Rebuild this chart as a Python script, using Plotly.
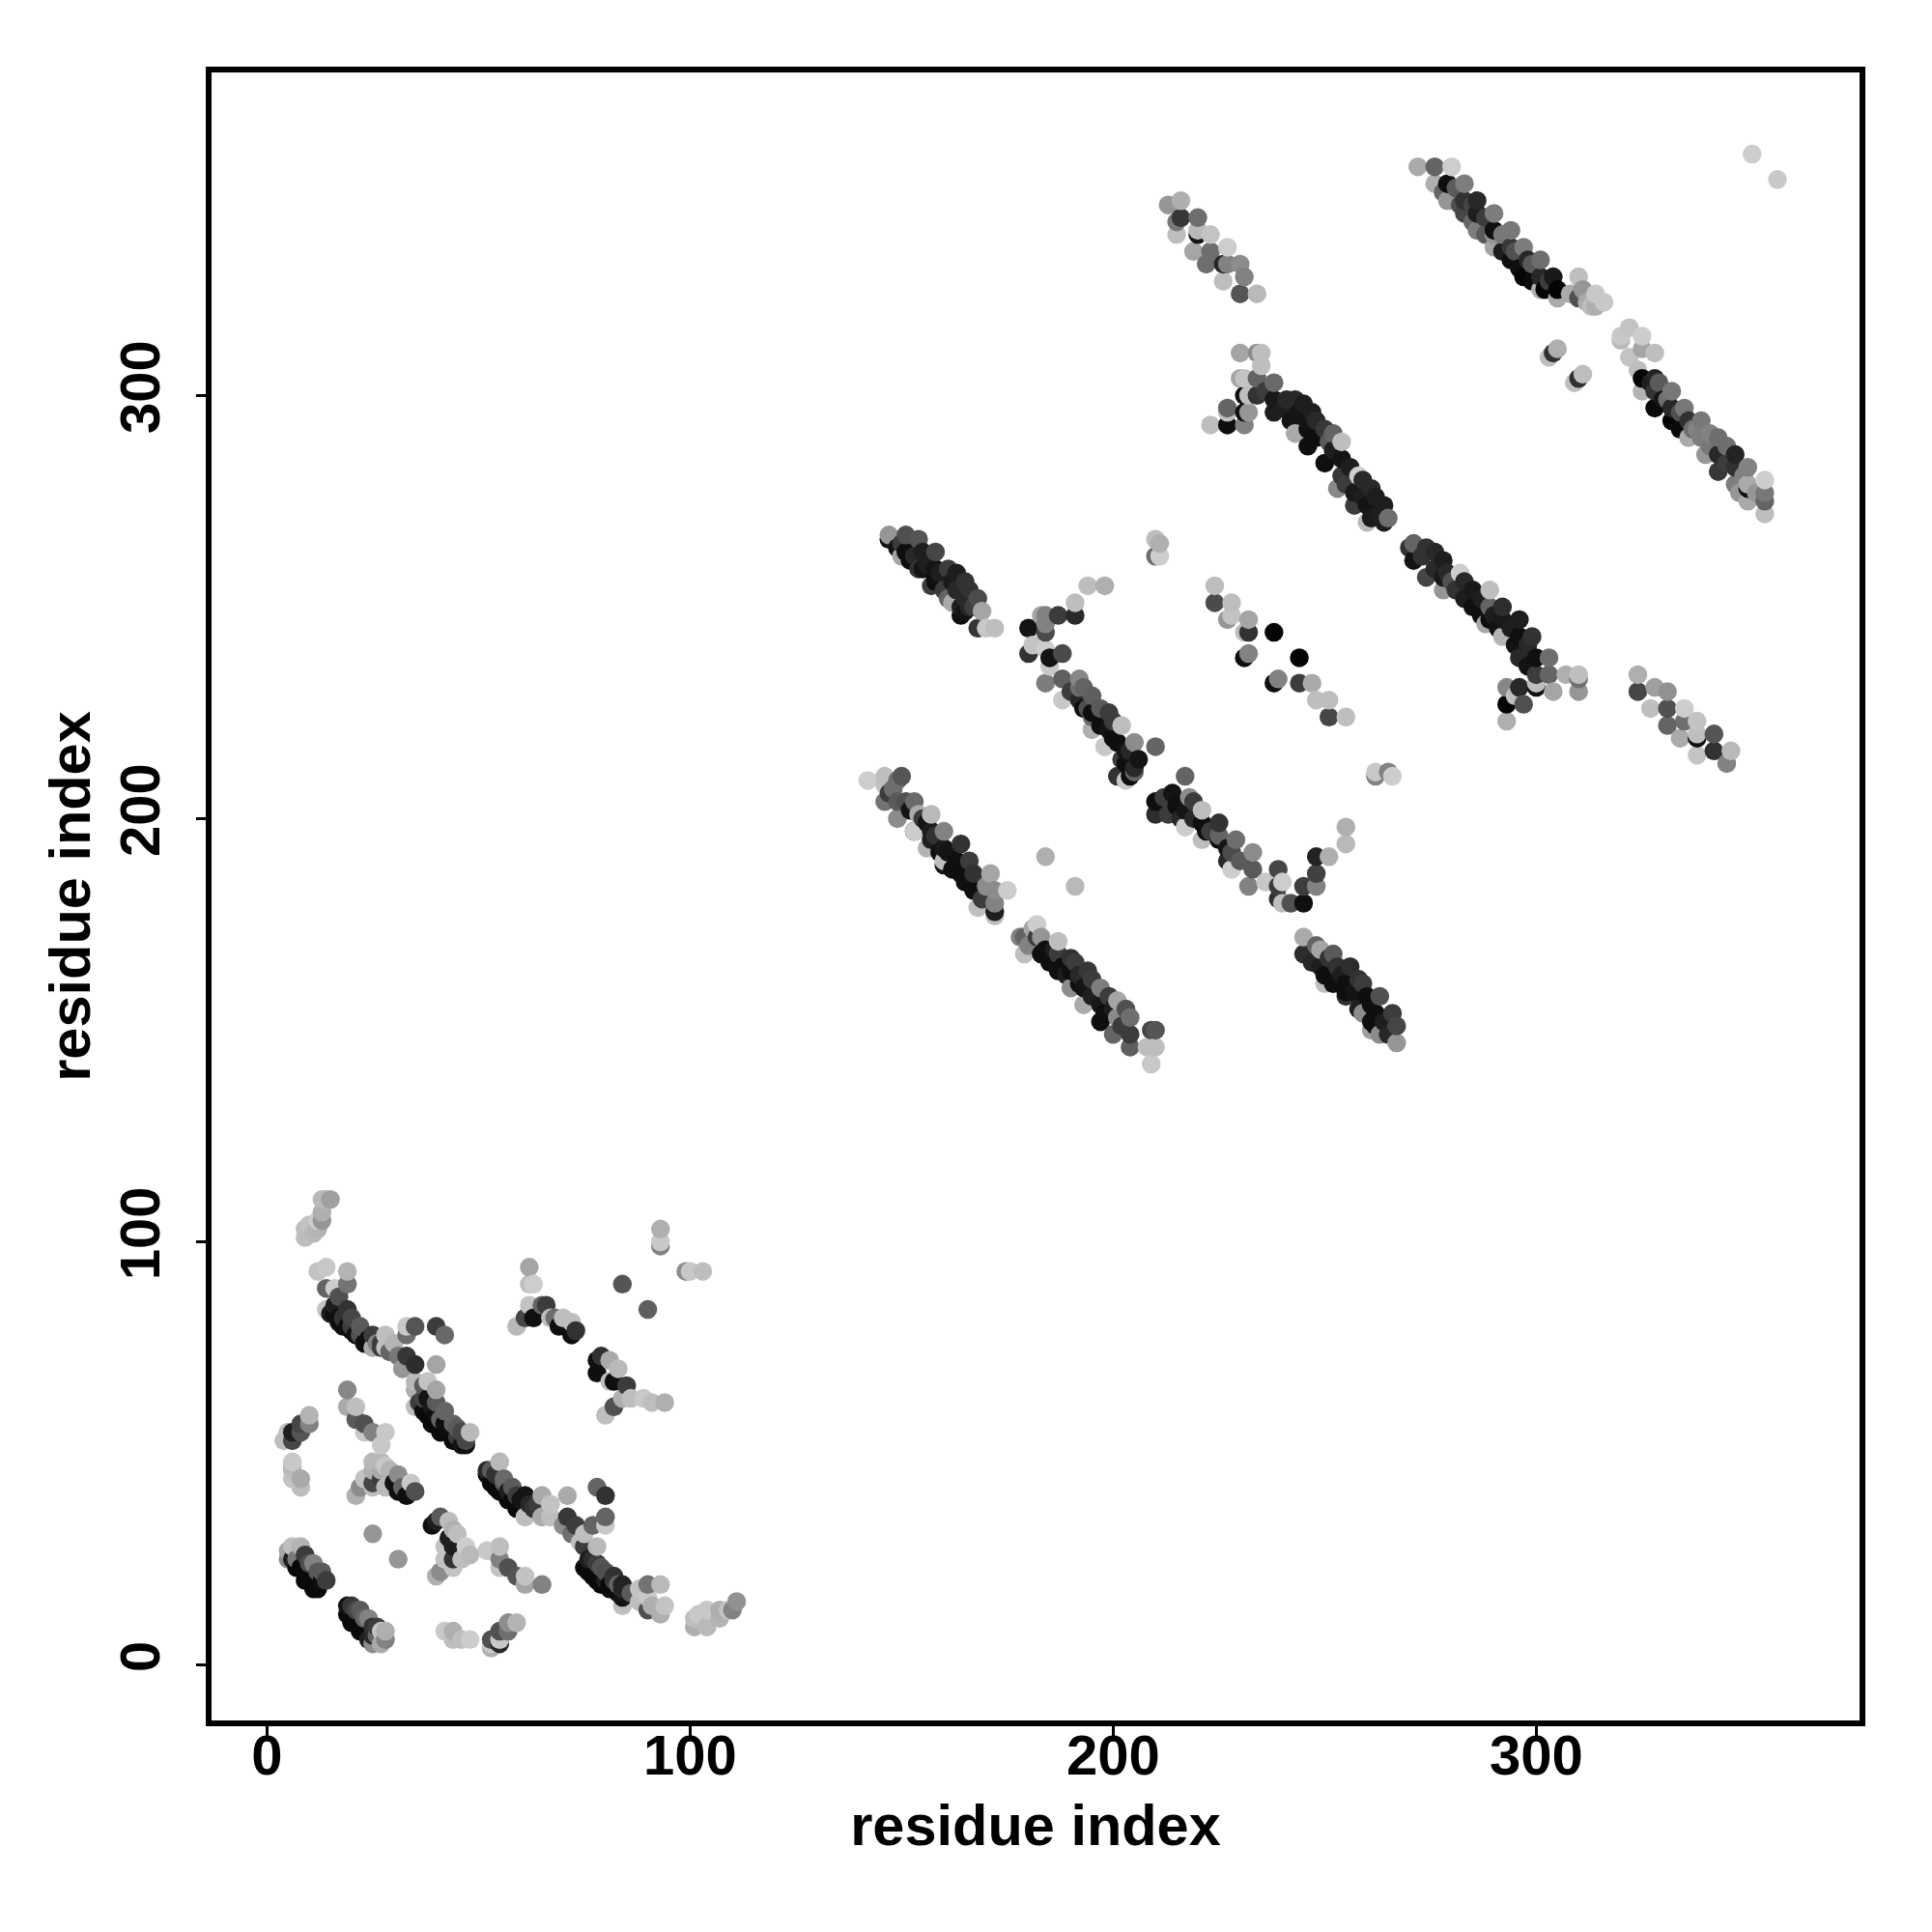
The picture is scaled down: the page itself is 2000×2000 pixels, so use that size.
import numpy as np
import plotly.graph_objects as go

# Each cluster: residue i, residue j, grey shade
a_i = [9,9,11,10,12,13,12,13,13,15,14]
a_j = [101,103,102,104,103,105,105,107,110,110,110]
a_s = [190,190,185,195,180,150,205,175,185,160,185]
b_i = [12,14,19,19,14,16,17,14,19,20,22,25,17,17,19,21,28,30,28,33,35,33,40,42,40,33,35,31,32,25,27]
b_j = [93,94,93,90,89,89,87,84,84,82,80,78,82,81,80,78,78,76,75,80,80,78,80,78,71,73,71,73,70,75,75]
b_s = [195,200,180,115,100,205,80,195,50,70,90,60,15,15,15,15,190,180,190,200,85,110,60,105,165,55,45,120,150,170,60]
c_i = [38,40,35,35,35,37,37,39,38,41,44,46,48,38,39,41,44,46,47]
c_j = [67,65,67,65,61,66,63,61,59,58,57,55,55,59,57,55,53,52,53]
c_s = [195,165,185,175,190,90,70,25,10,100,100,70,185,10,10,10,10,20,70]
d_i = [4,5,6,6,8,8,10,10,5]
d_j = [53,55,53,55,55,57,57,59,55]
d_s = [190,180,70,30,85,70,130,180,190]
e_i = [19,19,21,21,23,25,23,28,27]
e_j = [65,61,61,58,57,55,55,55,52]
e_s = [135,170,190,90,80,130,200,200,200]
f_i = [6,6,6,8,8,6]
f_j = [48,46,44,44,42,47]
f_s = [200,190,195,170,190,185]
g_i = [21,22,23,25,25,25,27,25,27,27,28,28,29,31,34,35,33,31,30,32]
g_j = [40,42,44,43,42,48,48,46,46,44,42,47,46,45,43,41,40,41,43,42]
g_s = [175,140,195,70,190,185,185,175,170,60,185,200,180,140,200,80,15,15,20,100]
h_i = [55,52,53,56,58,61,52,54,57,59,64,65,67,61,65,67,67,65,71,61,63,61,65,67,71,73,70,72,75,78,80,80,77,80,78,75,74,77]
h_j = [48,46,46,44,42,40,45,42,39,37,38,40,38,35,35,35,38,40,40,40,37,35,35,35,35,33,33,31,31,42,40,35,33,33,28,28,29,25]
h_s = [185,40,90,105,90,20,10,10,10,10,60,165,190,190,175,190,195,170,170,20,50,190,170,190,55,60,140,110,190,100,50,100,100,200,185,60,190,45]
k_i = [79,82,84,83,75,76,78,81,84,84,86,90,93,88,90,90,88,93,94,91]
k_j = [23,21,19,19,23,22,20,18,16,14,17,19,19,18,13,16,15,12,14,14]
k_s = [85,50,35,100,10,10,10,10,20,190,90,115,185,195,80,200,190,175,195,175]
l_i = [101,102,104,104,107,107,110,111,109,101]
l_j = [9,12,9,13,13,11,13,15,13,11]
l_s = [175,200,185,200,175,180,130,145,195,190]
m_i = [53,53,53,55,55,55,57,57,59]
m_j = [4,6,5,5,6,8,8,10,10]
m_s = [175,80,200,40,200,80,110,140,180]
n_i = [42,44,44,46,48]
n_j = [8,8,6,6,6]
n_s = [200,175,190,190,205]
o_i = [20,22,24,26,19,20,22,24,25,27,28,27,28]
o_j = [14,13,11,9,12,10,8,6,5,5,6,8,8]
o_s = [55,90,130,60,10,10,10,30,140,170,130,195,175]
p_i = [5,8,6,5,9,11,12,14,7,9,11,12]
p_j = [27,28,28,25,26,24,22,20,23,20,18,18]
p_s = [165,180,190,140,60,130,90,60,10,10,10,10]
q_i = [25,31,84,90,93,93,93,99,100,103]
q_j = [31,25,90,84,103,99,100,93,93,93]
q_s = [150,150,85,95,175,130,200,140,200,190]
r_i = [40,41,43,39,44,45,47,48,46,44,42,44,42,40,41,44,43]
r_j = [34,35,34,33,32,31,28,26,25,25,28,23,25,21,22,28,30]
r_s = [30,90,190,15,175,190,205,185,190,50,195,195,195,175,140,30,30]
s_i = [52,55,55,55,57,59,61,61,65]
s_j = [27,28,25,23,23,21,21,19,19]
s_s = [200,190,130,195,80,85,195,165,130]
t_i = [62,62,63,59,61,62,65,66,67,68,70,72,73,72,69,63]
t_j = [94,90,90,80,82,85,85,85,82,82,82,81,79,78,80,82]
t_s = [165,190,205,185,70,195,100,60,190,110,190,190,50,15,15,15]
u_i = [79,78,81,83,78,81,82,85,82,80,84,89,91,94,86]
u_j = [73,72,72,70,69,67,67,66,61,59,63,63,62,62,63]
u_s = [50,15,170,185,15,190,15,60,80,190,175,200,190,175,190]
v_i = [147,147,151,154,158,155,151,150,161,158,154,165,162,158,157,168,165,161,162,169,165,164,168,172,170]
v_j = [267,266,267,266,263,263,263,262,259,259,259,256,256,256,255,252,252,252,251,249,249,248,245,245,245]
v_s = [150,20,80,85,70,30,15,165,60,20,50,50,25,15,60,75,40,100,170,165,20,15,55,190,200]
w_i = [142,146,150,149,146,146,149,153,149,154,157,153,157,153,160,156,160,164,163,160,160,164,167,171,167,172,175,168,172,172,172]
w_j = [209,210,210,209,208,204,204,204,200,201,201,197,197,197,197,193,193,194,190,189,190,187,187,187,183,183,183,179,180,178,177]
w_s = [205,190,85,110,195,115,90,105,140,170,185,15,30,205,130,180,25,50,15,25,190,15,50,165,15,140,205,190,130,30,190]
x_i = [182,181,178,179,179,183,187,183,187,190,187,190,194,190,193,197,193,197,201,197,201,204,200,204,204,210,208,210,209,209]
x_j = [175,174,172,172,168,172,171,168,168,167,164,164,164,160,160,160,156,156,157,152,153,153,149,149,146,150,146,146,142,150]
x_s = [205,165,130,100,190,150,190,15,60,50,15,15,55,140,20,125,170,25,165,15,140,110,100,60,95,85,190,190,200,70]
y_i = [245,245,249,252,249,253,256,252,250,255,259,255,260,263,259,262,266,262,267,261,267]
y_j = [172,168,169,168,165,165,165,161,161,161,161,158,158,158,154,154,154,151,151,150,147]
y_s = [170,45,165,90,30,50,45,15,190,15,60,50,15,80,140,15,60,15,70,160,150]
z_i = [194,198,191,191,187,184,183,180,184,184,181,184,180,188,185,185,184,188,192,192,188,192,195,195,195,199,195,199,202,198,201,205,210,198,206,202,205,201,204,203,205]
z_j = [255,255,251,248,248,248,248,245,244,246,241,240,239,239,238,236,232,233,233,231,228,228,229,225,224,225,221,221,222,217,218,218,217,217,214,214,211,210,210,209,212]
z_s = [190,175,190,40,60,130,165,20,75,130,195,205,50,75,20,200,125,95,135,110,200,40,95,15,110,60,175,20,190,205,15,140,100,200,20,60,100,50,15,200,40]
aa_i = [217,210,210,212,214,214,218,217,217,221,221,221,225,225,225,229,228,228,233,233,232,236,239,239,240,239,240,242,245,248,245,248,248,251,255,255]
aa_j = [210,204,201,205,206,202,205,202,198,202,199,195,199,196,195,195,192,188,192,188,184,185,188,184,185,181,180,180,184,184,180,187,191,191,194,198]
aa_s = [100,15,45,60,20,60,140,20,205,190,15,190,50,100,15,110,75,205,140,90,130,200,70,60,205,50,190,80,60,130,15,65,35,175,185,175]
ab_i = [184,191,262,262,265,266,351,357,210,211,210,211]
ab_j = [191,184,210,211,211,210,357,351,266,265,262,262]
ab_s = [175,185,130,200,130,205,205,200,190,175,110,205]
ac_i = [224,224,228,227,228,232,232,231,238,244,232,231,239,238,244,247,248,251,251,255]
ac_j = [255,251,251,247,248,247,244,244,244,238,239,238,233,232,232,232,228,228,224,224]
ac_s = [190,75,190,150,195,165,50,190,5,5,130,15,130,15,60,170,190,190,70,190]
ad_i = [213,216,216,220,215,215,220,220,223,227,219,223,222,227,226,230,226,231,230,234]
ad_j = [345,346,342,342,341,338,338,339,338,335,334,334,331,331,331,331,327,328,324,324]
ad_s = [150,175,55,110,120,190,20,185,195,205,165,110,110,130,40,140,190,130,85,185]
ae_i = [272,276,280,276,279,283,279,283,286,283,286,290,286,290,290,294,290,294,297,294,298,301,297,301,304,301,305,305,308,310,311,310,314,316,314,312,313]
ae_j = [354,354,354,350,350,350,346,346,346,343,343,343,339,339,338,339,335,335,335,332,332,332,328,328,328,325,325,323,324,328,325,323,324,322,321,322,321]
ae_s = [170,100,205,175,15,125,150,50,40,70,30,125,125,15,150,120,165,55,125,15,40,110,5,40,25,175,5,170,170,190,150,80,200,200,175,170,190]
af_i = [303,305,304,309,311,310]
af_j = [309,311,310,303,305,304]
af_s = [190,175,50,190,190,50]
ag_i = [320,322,320,325,325,328,322,325,324,328,325,328,332,328,332,335,332,336,339,336,339,343,340,343,347,343,347,350,347,350,350,354,350,354,354,354]
ag_j = [314,316,313,314,311,310,309,304,306,304,301,301,301,297,297,297,294,294,294,290,290,290,286,286,286,282,283,283,279,279,278,280,275,275,277,272]
ag_s = [200,195,185,205,165,190,195,5,190,35,180,50,120,10,40,120,5,50,120,170,125,110,150,40,35,55,50,130,125,170,15,205,170,100,120,190]
ah_i = [230,235,234,235,230,231,234,238,231,232,234,238,241,243,227,227,231,232,238,244,247,223,227,231,243,246,250,246,251,254,250,254,254,258,253,257,261,257,260,264,260,261,264,265]
ah_j = [310,310,310,307,304,304,304,303,300,300,300,299,299,299,296,297,296,296,296,296,296,293,293,293,291,292,292,288,289,289,284,285,281,281,278,277,278,274,274,274,270,271,270,271]
ah_s = [165,190,140,190,165,195,100,105,15,190,50,25,40,40,190,100,15,150,30,20,30,190,15,130,170,15,55,15,90,190,15,20,55,205,135,25,40,60,20,30,185,25,30,110]
ai_i = [271,270,274,271,278,274,278,282,278,281,285,289,285,289,292,289,292,296,288,292,296,299,296,300,303,300,303,307,310,310,310,304,300,300,296,293,297,293,295,293]
ai_j = [265,264,264,261,261,257,257,258,254,254,254,254,250,250,250,247,247,247,246,243,243,243,238,238,238,234,234,234,234,233,230,230,231,232,231,231,227,227,229,223]
ai_s = [100,50,50,20,30,70,25,205,150,50,25,190,15,100,45,15,25,30,170,180,15,50,40,15,110,60,100,175,190,110,150,165,15,190,40,135,80,5,190,175]
aj_i = [324,324,328,331,327,331,335,331,335,338,334,338,338,342,338,342,346,345]
aj_j = [234,230,231,230,226,226,226,222,223,223,219,219,220,220,215,216,216,213]
aj_s = [175,70,160,145,190,80,205,100,110,195,170,15,190,85,195,50,185,130]

# Points half hidden inside the dense bands
fb_i = [15,16,16,18,18,20,20,22,23,24,26,27,29]
fb_j = [83,85,83,82,80,80,79,78,76,77,76,76,74]
fb_s = [30,30,15,50,15,60,15,80,15,15,130,60,100]
fc_i = [36,38,40,40,42,42,43,45,45,47,37]
fc_j = [62,63,59,62,57,60,55,56,54,52,60]
fc_s = [60,20,15,90,15,100,15,90,60,15,15]
fh_i = [53,54,55,56,57,58,59,60,60,62]
fh_j = [43,45,41,43,41,39,40,37,39,38]
fh_s = [10,50,10,90,30,10,60,10,20,40]
fk_i = [76,77,78,79,80,81,82,83,84,80]
fk_j = [25,21,24,19,22,19,20,17,18,20]
fk_s = [30,10,60,10,80,10,60,15,40,30]
fo_i = [19,21,21,23,23,25,25,26]
fo_j = [14,11,13,9,11,7,9,7]
fo_s = [20,10,70,10,100,40,50,100]
fp_i = [6,7,8,10,10,11,13,13]
fp_j = [25,25,23,22,24,20,20,22]
fp_s = [30,120,10,10,80,10,15,90]
fv_i = [149,150,152,153,155,156,158,159,160,163,164,166,167,166,163]
fv_j = [264,265,261,262,259,260,257,258,254,254,250,250,250,254,258]
fv_s = [20,60,15,40,20,30,15,30,60,40,30,40,60,50,30]
fw_i = [147,148,151,152,155,156,157,158,159,161,162,165,166,169,170]
fw_j = [206,207,204,202,200,199,195,196,192,192,188,185,190,181,184]
fw_s = [60,110,80,20,60,20,30,50,15,20,15,15,60,60,140]
fx_i = [180,182,184,185,186,188,189,191,192,192,195,195,198,199,200,203,202]
fx_j = [170,172,169,166,169,165,163,166,161,163,158,162,154,158,155,155,151]
fx_s = [130,60,15,15,30,15,30,60,15,40,30,60,15,60,30,80,60]
fy_i = [247,248,250,251,252,254,255,257,258,258,261,261,264,263,265]
fy_j = [166,170,163,167,163,163,159,159,155,162,156,152,152,149,149]
fy_s = [40,100,15,50,15,30,15,20,30,50,15,15,30,140,40]
fz_i = [190,193,193,194,197,197,200,200,203,204,203]
fz_j = [230,226,231,226,222,226,219,223,216,216,213]
fz_s = [60,15,100,80,15,90,15,60,20,40,15]
faa_i = [213,215,216,219,219,222,223,227,227,230]
faa_j = [201,203,200,204,200,197,197,193,190,190]
faa_s = [60,15,40,60,40,15,60,20,40,90]
fae_i = [278,281,282,285,285,288,288,292,292,295,296,299,299,303,302]
fae_j = [348,349,345,345,341,342,338,338,334,334,330,331,327,327,325]
fae_s = [100,90,80,70,100,60,90,120,30,80,15,90,10,60,5]
fag_i = [327,329,330,331,334,334,337,338,341,341,345,345,349,348,352]
fag_j = [303,303,299,299,296,292,292,292,288,291,284,288,281,277,277]
fag_s = [30,90,20,110,80,10,110,130,120,130,60,110,130,150,150]
fah_i = [236,240,242,245,246,248,248,252,252,256,255,259,259,262,263]
fah_j = [301,297,294,298,294,290,294,287,291,283,279,280,276,276,272]
fah_s = [60,30,20,30,20,15,40,30,100,30,60,40,30,30,30]
fai_i = [273,276,276,279,280,283,283,287,287,290,291,294,295,298,298]
fai_j = [262,263,259,258,256,256,252,252,248,248,245,245,241,241,236]
fai_s = [50,40,40,40,80,40,30,30,15,30,20,30,20,40,20]

axis_ticks = [0, 100, 200, 300]
axis_title = "residue index"

clusters = [
    (a_i,a_j,a_s),(b_i,b_j,b_s),(c_i,c_j,c_s),(d_i,d_j,d_s),(e_i,e_j,e_s),(f_i,f_j,f_s),
    (g_i,g_j,g_s),(h_i,h_j,h_s),(k_i,k_j,k_s),(l_i,l_j,l_s),(m_i,m_j,m_s),(n_i,n_j,n_s),
    (o_i,o_j,o_s),(p_i,p_j,p_s),(q_i,q_j,q_s),(r_i,r_j,r_s),(s_i,s_j,s_s),(t_i,t_j,t_s),
    (u_i,u_j,u_s),(v_i,v_j,v_s),(w_i,w_j,w_s),(x_i,x_j,x_s),(y_i,y_j,y_s),(z_i,z_j,z_s),
    (aa_i,aa_j,aa_s),(ab_i,ab_j,ab_s),(ac_i,ac_j,ac_s),(ad_i,ad_j,ad_s),(ae_i,ae_j,ae_s),
    (af_i,af_j,af_s),(ag_i,ag_j,ag_s),(ah_i,ah_j,ah_s),(ai_i,ai_j,ai_s),(aj_i,aj_j,aj_s),
    (fb_i,fb_j,fb_s),(fc_i,fc_j,fc_s),(fh_i,fh_j,fh_s),(fk_i,fk_j,fk_s),(fo_i,fo_j,fo_s),
    (fp_i,fp_j,fp_s),(fv_i,fv_j,fv_s),(fw_i,fw_j,fw_s),(fx_i,fx_j,fx_s),(fy_i,fy_j,fy_s),
    (fz_i,fz_j,fz_s),(faa_i,faa_j,faa_s),(fae_i,fae_j,fae_s),(fag_i,fag_j,fag_s),
    (fah_i,fah_j,fah_s),(fai_i,fai_j,fai_s),
]
for n, c in enumerate(clusters):
    assert len(c[0]) == len(c[1]) == len(c[2]), n

res_i = np.concatenate([c[0] for c in clusters])
res_j = np.concatenate([c[1] for c in clusters])
shade = np.concatenate([c[2] for c in clusters])
order = np.lexsort((res_j, res_i))   # drawn in order of i, then j
res_i, res_j, shade = res_i[order], res_j[order], shade[order]

fig = go.Figure(go.Scatter(
    x=res_i, y=res_j, mode="markers",
    marker=dict(size=19.5, color=[f"rgb({v},{v},{v})" for v in shade], line=dict(width=0)),
    hoverinfo="skip",
))
F = "Liberation Sans"
ax = dict(
    showgrid=False, zeroline=False, showline=True, mirror=True, linecolor="black", linewidth=6,
    ticks="outside", ticklen=10, tickwidth=3, tickcolor="black",
    tickvals=axis_ticks, ticktext=[str(v) for v in axis_ticks],
    tickfont=dict(family=F, size=58, color="black", weight="bold"),
)
fig.update_xaxes(**ax, range=[-13.1, 376.4], ticklabelstandoff=-30,
                 title=dict(text=f"<b>{axis_title}</b>", font=dict(family=F, size=59.5, color="black"), standoff=23))
fig.update_yaxes(**ax, range=[-13.1, 376.3], tickangle=-90, ticklabelstandoff=15,
                 title=dict(text=f"<b>{axis_title}</b>", font=dict(family=F, size=59.5, color="black"), standoff=1))
fig.update_layout(
    width=2000, height=2000, showlegend=False,
    paper_bgcolor="white", plot_bgcolor="white",
    margin=dict(l=211, r=83, t=67, b=227, autoexpand=False),
)
fig.write_html("out.html")
